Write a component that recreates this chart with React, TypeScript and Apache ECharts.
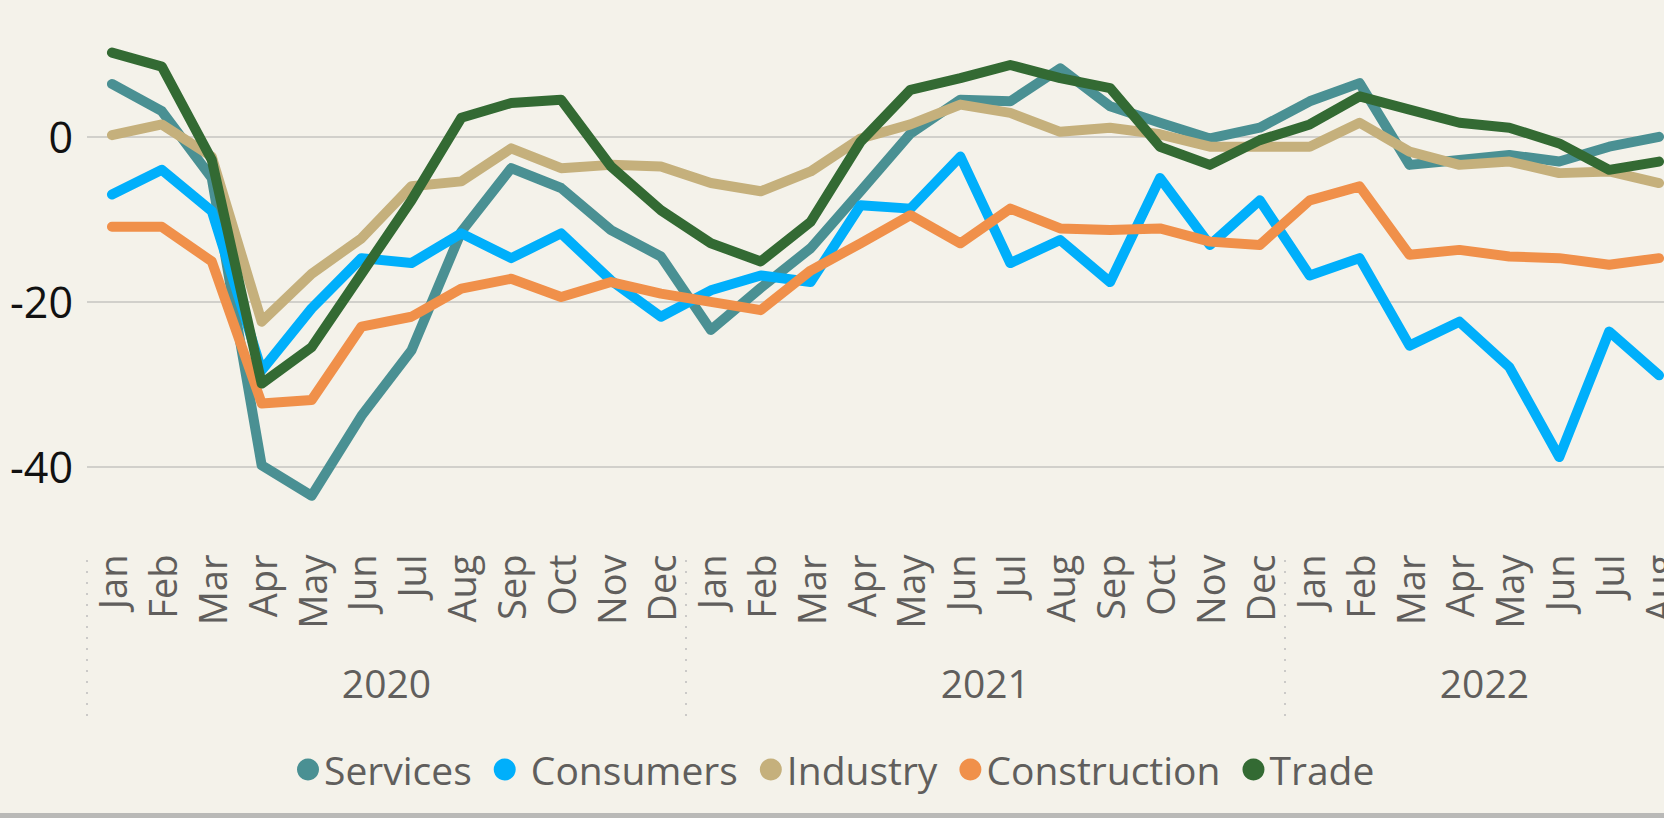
import React, { useEffect, useRef } from "react";
import * as echarts from "echarts";

const months = [
  "Jan","Feb","Mar","Apr","May","Jun","Jul","Aug","Sep","Oct","Nov","Dec",
  "Jan","Feb","Mar","Apr","May","Jun","Jul","Aug","Sep","Oct","Nov","Dec",
  "Jan","Feb","Mar","Apr","May","Jun","Jul","Aug",
];
const years = ["2020", "2021", "2022"];
const yearCenters = [6, 18, 28];
const yearStarts = [0, 12, 24];
const yTickLabels = [0, -20, -40];

const services = [
  6.4, 3.1, -5.0, -39.8, -43.5, -33.8, -25.9, -11.5, -3.8, -6.2, -11.3, -14.5,
  -23.4, -18.3, -13.5, -6.6, 0.4, 4.5, 4.3, 8.3, 3.7, 1.7, -0.2, 1.1,
  4.3, 6.5, -3.4, -2.8, -2.2, -3.0, -1.2, 0.0,
];
const consumers = [
  -7.0, -4.0, -9.0, -28.3, -20.8, -14.7, -15.3, -11.7, -14.7, -11.7, -17.4, -21.8,
  -18.6, -16.8, -17.6, -8.3, -8.7, -2.4, -15.3, -12.5, -17.6, -5.0, -13.1, -7.7,
  -16.8, -14.7, -25.3, -22.4, -27.9, -38.8, -23.6, -28.9,
];
const industry = [
  0.2, 1.5, -2.4, -22.4, -16.6, -12.3, -6.0, -5.4, -1.4, -3.8, -3.4, -3.6,
  -5.6, -6.6, -4.2, -0.2, 1.5, 3.9, 2.9, 0.6, 1.1, 0.3, -1.2, -1.2,
  -1.2, 1.7, -1.8, -3.4, -3.0, -4.4, -4.2, -5.6,
];
const construction = [
  -10.9, -10.9, -15.1, -32.3, -31.9, -23.0, -21.8, -18.4, -17.2, -19.4, -17.6, -19.0,
  -20.0, -21.0, -16.2, -12.9, -9.5, -12.9, -8.7, -11.1, -11.3, -11.1, -12.7, -13.1,
  -7.7, -6.0, -14.3, -13.7, -14.5, -14.7, -15.5, -14.7,
];
const trade = [
  10.2, 8.5, -2.8, -29.9, -25.5, -16.6, -7.7, 2.3, 4.1, 4.5, -3.6, -8.9,
  -12.9, -15.1, -10.3, -0.6, 5.7, 7.1, 8.7, 7.1, 5.9, -1.2, -3.4, -0.4,
  1.5, 4.9, 3.3, 1.7, 1.1, -0.8, -4.0, -3.0,
];

const seriesNames = ["Services", "Consumers", "Industry", "Construction", "Trade"];
const seriesData = [services, consumers, industry, construction, trade];
const seriesColors = ["#4A9093", "#00AFFB", "#C5B07C", "#F0904A", "#336A33"];

const FONT = "'Open Sans', 'Noto Sans', sans-serif";

export default function App() {
  const ref = useRef<HTMLDivElement>(null);

  useEffect(() => {
    if (!ref.current) return;
    const chart = echarts.init(ref.current, null, { renderer: "svg" });
    const gridLineColors = ["none", "#C6C5C0", "none", "#C6C5C0", "none", "#C6C5C0", "none", "none"];
    chart.setOption({
      animation: false,
      backgroundColor: "#F4F2EA",
      textStyle: { fontFamily: FONT },
      grid: { left: 87, right: 6, top: 13, bottom: 268.5, containLabel: false },
      legend: {
        data: seriesNames,
        left: 292,
        top: 745,
        icon: "circle",
        itemWidth: 22,
        itemHeight: 22,
        itemGap: 22,
        formatter: (name: string) => (name === "Consumers" ? " Consumers" : name),
        textStyle: { fontSize: 39, color: "#605E5C", fontFamily: FONT },
      },
      xAxis: [
        {
          type: "category",
          data: months,
          boundaryGap: true,
          axisLine: { show: false },
          axisTick: { show: false },
          splitLine: { show: false },
          axisLabel: {
            interval: 0,
            rotate: 90,
            margin: 5,
            fontSize: 38,
            color: "#605E5C",
            fontFamily: FONT,
          },
        },
        {
          type: "value",
          min: 0,
          max: 32,
          position: "bottom",
          offset: 166.5,
          axisLine: { show: false },
          splitLine: { show: false },
          axisTick: {
            show: true,
            inside: true,
            length: 159,
            customValues: yearStarts,
            lineStyle: { color: "#BDBDBD", width: 1.5, type: [2, 9] },
          },
          axisLabel: {
            show: true,
            inside: true,
            margin: 14,
            customValues: yearCenters,
            fontSize: 39,
            color: "#605E5C",
            fontFamily: FONT,
            formatter: (v: number) => {
              const i = yearCenters.indexOf(v);
              return i >= 0 ? years[i] : "";
            },
          },
        },
      ],
      yAxis: {
        type: "value",
        min: -50,
        max: 15,
        interval: 10,
        axisLine: { show: false },
        axisTick: { show: false },
        axisLabel: {
          margin: 14,
          fontSize: 43,
          color: "#111111",
          fontFamily: FONT,
          formatter: (v: number) => (yTickLabels.indexOf(v) >= 0 ? String(v) : ""),
        },
        splitLine: { show: true, lineStyle: { color: gridLineColors, width: 1.5 } },
      },
      series: seriesNames.map((name, i) => ({
        name,
        type: "line",
        xAxisIndex: 0,
        data: seriesData[i],
        symbol: "none",
        color: seriesColors[i],
        lineStyle: { width: 10, color: seriesColors[i], cap: "round", join: "round" },
        emphasis: { disabled: true },
      })),
      graphic: [
        {
          type: "rect",
          shape: { x: 0, y: 813, width: 1700, height: 5 },
          style: { fill: "#B9B9B7" },
          silent: true,
        },
      ],
    });
    return () => chart.dispose();
  }, []);

  return (
    <div
      style={{
        position: "fixed",
        left: 0,
        top: 0,
        width: "1664px",
        height: "818px",
        overflow: "hidden",
        background: "#F4F2EA",
      }}
    >
      <div ref={ref} style={{ width: "1690px", height: "818px" }} />
    </div>
  );
}
